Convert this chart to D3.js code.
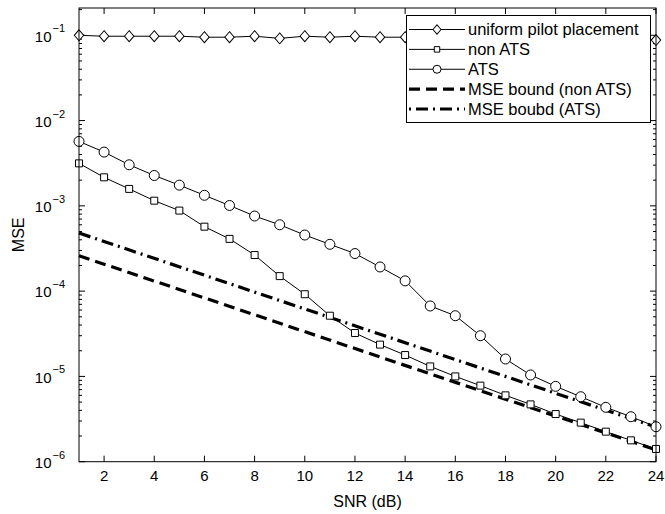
<!DOCTYPE html>
<html>
<head>
<meta charset="utf-8">
<script src="https://cdn.jsdelivr.net/npm/d3@7"></script>
<style>
  html, body { margin: 0; padding: 0; background: #fff; }
  svg { display: block; }
</style>
</head>
<body>
<div id="chart"></div>
<script>
// SNR axis (dB)
const snr = [1, 2, 3, 4, 5, 6, 7, 8, 9, 10, 11, 12, 13, 14, 15, 16, 17, 18, 19, 20, 21, 22, 23, 24]

const uniformMse = [0.1, 0.0975, 0.0975, 0.0975, 0.0975, 0.095, 0.095, 0.0975, 0.092, 0.0975, 0.095, 0.0975,
  0.095, 0.095, 0.095, 0.095, 0.095, 0.095, 0.095, 0.095, 0.095, 0.095, 0.095, 0.088]

const nonAtsMse = [3.15e-3, 2.16e-3, 1.58e-3, 1.15e-3, 8.8e-4, 5.7e-4, 4.1e-4, 2.65e-4, 1.5e-4, 9.2e-5, 5.15e-5, 3.23e-5,
  2.36e-5, 1.78e-5, 1.31e-5, 1.0e-5, 7.8e-6, 6.0e-6, 4.7e-6, 3.62e-6, 2.87e-6, 2.25e-6, 1.78e-6, 1.41e-6]

const atsMse = [5.7e-3, 4.27e-3, 3.03e-3, 2.27e-3, 1.75e-3, 1.33e-3, 1.01e-3, 7.6e-4, 6.0e-4, 4.55e-4, 3.54e-4, 2.76e-4,
  1.92e-4, 1.32e-4, 6.7e-5, 5.15e-5, 3.0e-5, 1.6e-5, 1.04e-5, 7.65e-6, 5.78e-6, 4.34e-6, 3.37e-6, 2.57e-6]

// bounds are straight lines on the log plot, read at both ends
const boundSnr = [1, 24]
const boundNonAts = [2.6e-4, 1.38e-6]
const boundAts = [4.8e-4, 2.55e-6]

const xTicks = [2, 4, 6, 8, 10, 12, 14, 16, 18, 20, 22, 24]
const yExponents = [-6, -5, -4, -3, -2, -1]

const legendLabels = ["uniform pilot placement", "non ATS", "ATS", "MSE bound (non ATS)", "MSE boubd (ATS)"]

const width = 665
const height = 514
const plotL = 79, plotR = 656, plotT = 8, plotB = 461.7
const font = "Liberation Sans, Arial, sans-serif"

const svg = d3.select("#chart")
  .append("svg")
  .attr("width", width)
  .attr("height", height)

const x = d3.scaleLinear().domain([1, 24]).range([plotL, plotR])
const y = d3.scaleLog().domain([1e-6, Math.pow(10, -0.68)]).range([plotB, plotT])

// ticks (inward, on all four sides)
const tickG = svg.append("g").attr("stroke", "#000").attr("stroke-width", 1)
xTicks.forEach(t => {
  tickG.append("line").attr("x1", x(t)).attr("x2", x(t)).attr("y1", plotB).attr("y2", plotB - 6)
  tickG.append("line").attr("x1", x(t)).attr("x2", x(t)).attr("y1", plotT).attr("y2", plotT + 6)
})
yExponents.forEach(e => {
  for (let m = 1; m <= 9; m++) {
    const v = m * Math.pow(10, e)
    if (v > y.domain()[1]) break
    const len = m === 1 ? 6 : 3
    tickG.append("line").attr("x1", plotL).attr("x2", plotL + len).attr("y1", y(v)).attr("y2", y(v))
    tickG.append("line").attr("x1", plotR).attr("x2", plotR - len).attr("y1", y(v)).attr("y2", y(v))
  }
})

// tick labels
svg.append("g").selectAll("text")
  .data(xTicks)
  .join("text")
  .attr("x", d => x(d))
  .attr("y", plotB + 19)
  .attr("text-anchor", "middle")
  .attr("font-family", font)
  .attr("font-size", "15px")
  .text(d => d)

yExponents.forEach(e => {
  svg.append("text")
    .attr("x", 51.5)
    .attr("y", y(Math.pow(10, e)) + 6.3)
    .attr("text-anchor", "end")
    .attr("font-family", font)
    .attr("font-size", "15px")
    .text("10")
  svg.append("text")
    .attr("x", 52.5)
    .attr("y", y(Math.pow(10, e)) - 3)
    .attr("font-family", font)
    .attr("font-size", "11px")
    .text("\u2212" + Math.abs(e))
})

// axis titles
svg.append("text")
  .attr("x", (plotL + plotR) / 2)
  .attr("y", 506.5)
  .attr("text-anchor", "middle")
  .attr("font-family", font)
  .attr("font-size", "16px")
  .text("SNR (dB)")

svg.append("text")
  .attr("transform", `translate(24,${(plotT + plotB) / 2}) rotate(-90)`)
  .attr("text-anchor", "middle")
  .attr("font-family", font)
  .attr("font-size", "16px")
  .text("MSE")

const plot = svg.append("g")

// bounds
const boundLine = d3.line().x((d, i) => x(boundSnr[i])).y(d => y(d))
plot.append("path")
  .attr("d", boundLine(boundNonAts))
  .attr("fill", "none").attr("stroke", "#000").attr("stroke-width", 3.2)
  .attr("stroke-dasharray", "11,6")
plot.append("path")
  .attr("d", boundLine(boundAts))
  .attr("fill", "none").attr("stroke", "#000").attr("stroke-width", 3.2)
  .attr("stroke-dasharray", "12,5,2,5")

// data series
const line = d3.line().x((d, i) => x(snr[i])).y(d => y(d))
const diamond = d3.symbol().type(d3.symbolDiamond2).size(70)
const square = d3.symbol().type(d3.symbolSquare2).size(62)
const diamondSmall = d3.symbol().type(d3.symbolDiamond2).size(50)
const squareSmall = d3.symbol().type(d3.symbolSquare2).size(38)

function series(values, marker) {
  plot.append("path")
    .attr("d", line(values))
    .attr("fill", "none").attr("stroke", "#000").attr("stroke-width", 1)
  const g = plot.append("g")
  values.forEach((v, i) => {
    if (marker === "circle") {
      g.append("circle").attr("cx", x(snr[i])).attr("cy", y(v)).attr("r", 5)
        .attr("fill", "#fff").attr("stroke", "#000").attr("stroke-width", 1)
    } else {
      g.append("path").attr("d", marker === "diamond" ? diamond() : square())
        .attr("transform", `translate(${x(snr[i])},${y(v)})${marker === "diamond" ? " scale(0.9,1.05)" : ""}`)
        .attr("fill", "#fff").attr("stroke", "#000").attr("stroke-width", 1)
    }
  })
}
series(uniformMse, "diamond")
series(nonAtsMse, "square")
series(atsMse, "circle")

// frame
svg.append("rect")
  .attr("x", plotL).attr("y", plotT)
  .attr("width", plotR - plotL).attr("height", plotB - plotT)
  .attr("fill", "none").attr("stroke", "#000").attr("stroke-width", 1)

// legend
const lg = svg.append("g")
lg.append("rect")
  .attr("x", 406.5).attr("y", 15.5).attr("width", 244).attr("height", 107)
  .attr("fill", "#fff").attr("stroke", "#000").attr("stroke-width", 1)

const rowY = d3.scalePoint().domain(legendLabels).range([29.5, 109])
const sx0 = 409, sx1 = 465, sxm = 437
legendLabels.forEach((label, i) => {
  const yy = rowY(label)
  const s = lg.append("line").attr("x1", sx0).attr("x2", sx1).attr("y1", yy).attr("y2", yy).attr("stroke", "#000")
  if (i < 3) {
    s.attr("stroke-width", 1)
    if (i === 0) {
      lg.append("path").attr("d", diamondSmall()).attr("transform", `translate(${sxm},${yy}) scale(0.9,1.05)`)
        .attr("fill", "#fff").attr("stroke", "#000")
    } else if (i === 1) {
      lg.append("path").attr("d", squareSmall()).attr("transform", `translate(${sxm},${yy})`)
        .attr("fill", "#fff").attr("stroke", "#000")
    } else {
      lg.append("circle").attr("cx", sxm).attr("cy", yy).attr("r", 4)
        .attr("fill", "#fff").attr("stroke", "#000")
    }
  } else if (i === 3) {
    s.attr("stroke-width", 3.2).attr("stroke-dasharray", "11,6")
  } else {
    s.attr("stroke-width", 3.2).attr("stroke-dasharray", "2,5,12,5")
  }
  lg.append("text")
    .attr("x", 468).attr("y", yy + 5.5)
    .attr("font-family", font)
    .attr("font-size", "16.5px")
    .text(label)
})
</script>
</body>
</html>
